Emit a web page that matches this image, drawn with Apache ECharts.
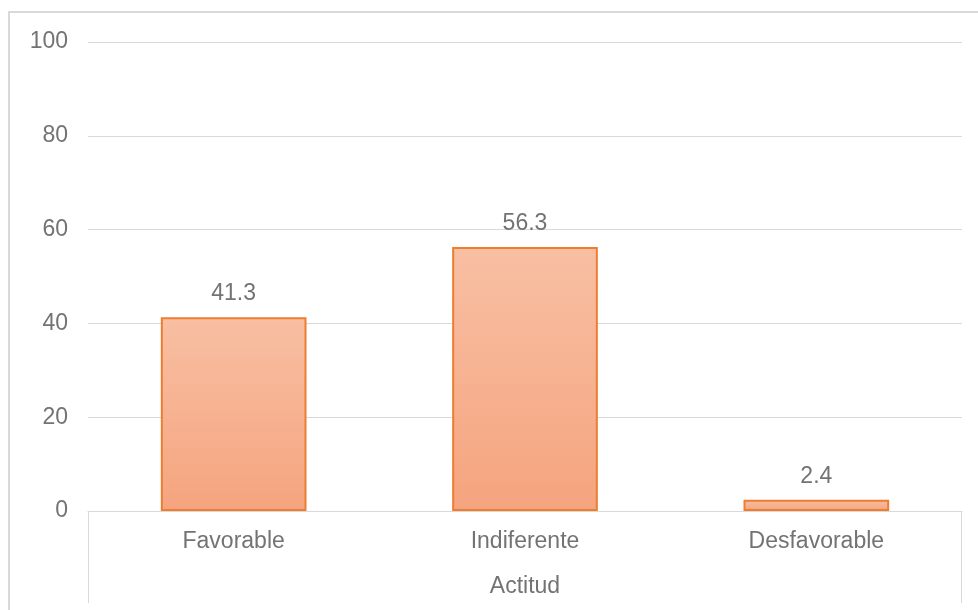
<!DOCTYPE html>
<html>
<head>
<meta charset="utf-8">
<script src="https://cdn.jsdelivr.net/npm/echarts@6/dist/echarts.min.js"></script>
<style>
html,body{margin:0;padding:0;background:#fff;}
#c{width:978px;height:610px;}
</style>
</head>
<body>
<div id="c"></div>
<script>
var categories = ['Favorable', 'Indiferente', 'Desfavorable'];
var values = [41.3, 56.3, 2.4];
var axisTitle = 'Actitud';
var yMin = 0, yMax = 100, yStep = 20;

var chart = echarts.init(document.getElementById('c'), null, {renderer: 'canvas'});
var font = 'Liberation Sans, Arial, sans-serif';
var txt = '#737373';
var fs = 23;
var option = {
  animation: false,
  backgroundColor: '#fff',
  grid: {left: 88, right: 16, top: 42, bottom: 99, containLabel: false},
  xAxis: {
    type: 'category',
    data: categories,
    name: axisTitle,
    nameLocation: 'middle',
    nameGap: 64,
    nameTextStyle: {color: txt, fontSize: fs, fontFamily: font},
    axisLine: {show: true, lineStyle: {color: '#d9d9d9', width: 1}},
    axisTick: {show: false},
    axisLabel: {color: txt, fontSize: fs, fontFamily: font, margin: 19}
  },
  yAxis: {
    type: 'value',
    min: yMin, max: yMax, interval: yStep,
    axisLine: {show: false},
    axisTick: {show: false},
    axisLabel: {color: txt, fontSize: fs, fontFamily: font, margin: 20},
    splitLine: {lineStyle: {color: '#d9d9d9', width: 1}}
  },
  series: [{
    type: 'bar',
    data: values,
    barWidth: '50%',
    itemStyle: {
      color: new echarts.graphic.LinearGradient(0, 0, 0, 1, [
        {offset: 0, color: '#f8bfa3'},
        {offset: 1, color: '#f5a47e'}
      ]),
      borderColor: '#ed7d31',
      borderWidth: 2
    },
    label: {
      show: true, position: 'top', distance: 12,
      color: txt, fontSize: fs, fontFamily: font,
      formatter: function(p){ return p.value.toFixed(1); }
    }
  }]
};
chart.setOption(option);

var xL = 88, xR = 978 - 16, yAxisPx = chart.convertToPixel({yAxisIndex: 0}, 0);
chart.setOption({
  graphic: [
    {type: 'rect', shape: {x: 9, y: 12, width: 1100, height: 800}, style: {fill: null, stroke: '#d9d9d9', lineWidth: 2}, silent: true, z: 0},
    {type: 'line', shape: {x1: xL + 0.5, y1: yAxisPx, x2: xL + 0.5, y2: 603}, style: {stroke: '#d9d9d9', lineWidth: 1}, silent: true},
    {type: 'line', shape: {x1: xR - 0.5, y1: yAxisPx, x2: xR - 0.5, y2: 603}, style: {stroke: '#d9d9d9', lineWidth: 1}, silent: true}
  ]
});
</script>
</body>
</html>
